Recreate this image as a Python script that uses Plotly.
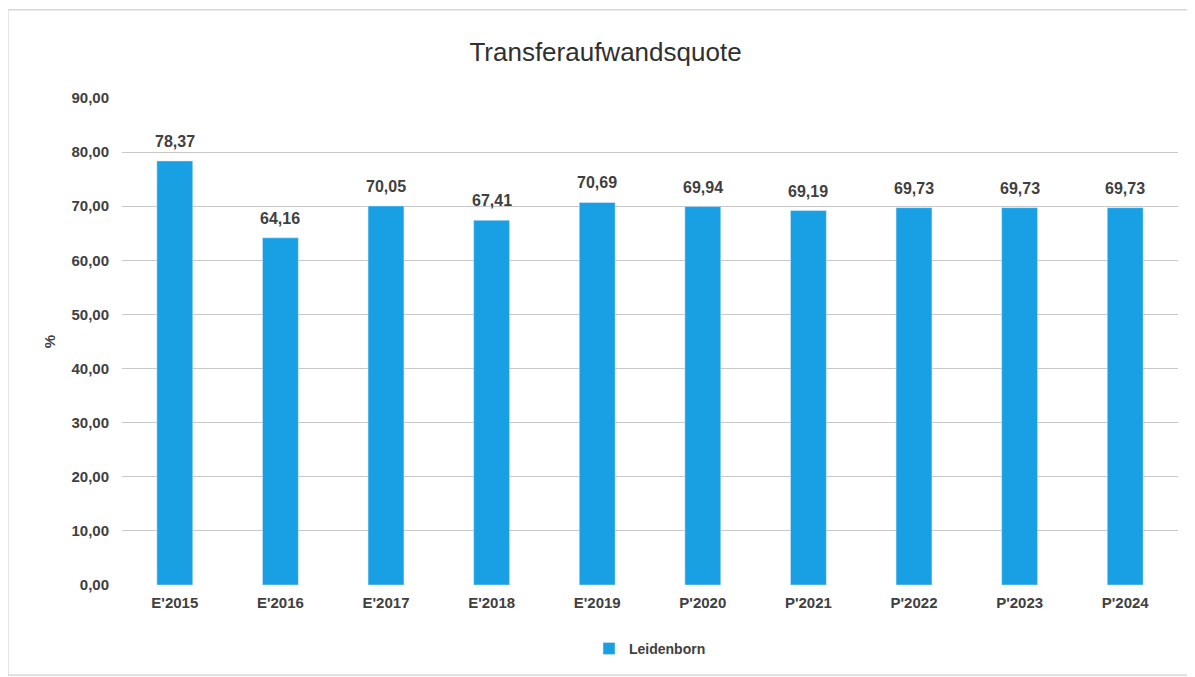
import plotly.graph_objects as go

categories = ["E'2015", "E'2016", "E'2017", "E'2018", "E'2019", "P'2020", "P'2021", "P'2022", "P'2023", "P'2024"]
values = [78.37, 64.16, 70.05, 67.41, 70.69, 69.94, 69.19, 69.73, 69.73, 69.73]
labels = ["78,37", "64,16", "70,05", "67,41", "70,69", "69,94", "69,19", "69,73", "69,73", "69,73"]
series_name = "Leidenborn"
tick_vals = [0, 10, 20, 30, 40, 50, 60, 70, 80, 90]

fig = go.Figure()
fig.add_trace(go.Bar(
    x=categories, y=values, name=series_name,
    marker=dict(color="#189fe4"),
))

for c, v, t in zip(categories, values, labels):
    fig.add_annotation(x=c, y=v, text=t, showarrow=False, yanchor="bottom", yshift=9,
                       font=dict(size=16, color="#404040", family="Liberation Sans", weight="bold"))

fig.update_layout(
    width=1195, height=677,
    paper_bgcolor="white", plot_bgcolor="white",
    separators=",.",
    font=dict(family="Liberation Sans", color="#404040"),
    title=dict(text="Transferaufwandsquote", x=0.5, xanchor="center", y=0.935, yanchor="middle",
               font=dict(size=26, color="#303030", family="Liberation Sans")),
    margin=dict(l=114, r=25, t=90, b=100),
    bargap=0.66,
    showlegend=True,
    legend=dict(orientation="h", x=0.5, xanchor="center", y=-0.131, yanchor="middle",
                font=dict(size=14, color="#404040", weight="bold")),
    xaxis=dict(tickfont=dict(size=15, color="#404040", weight="bold"), showline=False, ticks="",
               ticklabelstandoff=7),
    yaxis=dict(range=[0, 90], tickvals=tick_vals, tickformat=".2f",
               tickfont=dict(size=15, color="#404040", weight="bold"),
               gridcolor="#c8c8c8", gridwidth=1, zeroline=False, ticklabelstandoff=12,
               title=dict(text="%", font=dict(size=15, color="#404040", weight="bold"), standoff=12)),
    shapes=[dict(type="rect", xref="paper", yref="paper",
                 x0=-0.108, x1=1.011, y0=-0.185, y1=1.181,
                 line=dict(color="#c4c4c4", width=1))],
)

fig.write_html("out.html")
